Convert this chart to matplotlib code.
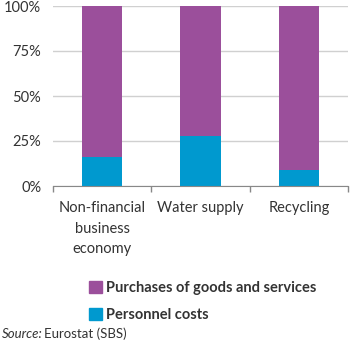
import matplotlib
matplotlib.use("Agg")
import matplotlib.pyplot as plt
from matplotlib.patches import Patch
from matplotlib.ticker import FixedLocator

categories = ["Non-financial\nbusiness\neconomy", "Water supply", "Recycling"]
personnel = [16, 28, 9]
purchases = [84, 72, 91]
series_names = ["Purchases of goods and services", "Personnel costs"]
yticks = [0, 25, 50, 75, 100]

purple = "#9B4F9B"
blue = "#0099CF"
txt = "#333333"

plt.rcParams['font.family'] = ['Lato', 'DejaVu Sans']

fig = plt.figure(figsize=(3.5, 3.41), dpi=100)
ax = fig.add_axes([53/350, 1-186/341, (348-53)/350, 180/341])

x = list(range(len(categories)))
ax.bar(x, personnel, width=0.41, color=blue, zorder=3)
ax.bar(x, purchases, bottom=personnel, width=0.41, color=purple, zorder=3)

ax.set_xlim(-0.5, 2.5)
ax.set_ylim(0, 100)
ax.set_yticks(yticks)
ax.set_yticklabels([f"{v}%" for v in yticks], fontsize=10.5, color=txt)
ax.yaxis.grid(True, color="#d0d0d0", linewidth=1, zorder=0)
ax.tick_params(axis='y', length=0, pad=8.5)

ax.set_xticks(x)
ax.set_xticklabels(categories, fontsize=10.5, color=txt, linespacing=1.6, va='top')
ax.tick_params(axis='x', which='major', length=0, pad=11)
ax.xaxis.set_minor_locator(FixedLocator([-0.5, 0.5, 1.5, 2.5]))
ax.tick_params(axis='x', which='minor', length=4, color="#888888", width=1)

for s in ['left', 'right', 'top']:
    ax.spines[s].set_visible(False)
ax.spines['bottom'].set_color("#888888")
ax.spines['bottom'].set_zorder(4)

handles = [Patch(color=purple), Patch(color=blue)]
leg = fig.legend(handles, series_names, loc='upper left', bbox_to_anchor=(76/350, 1-268/341),
                 frameon=False, handlelength=0.9, handleheight=0.9, handletextpad=0.25,
                 labelspacing=0.85, prop={'weight': 'bold', 'size': 10.5})
for t in leg.get_texts():
    t.set_color(txt)

fig.text(2/350, 1-334/341, "Source:", style='italic', fontsize=9.5, color=txt, va='center')
fig.text(44/350, 1-334/341, "Eurostat (SBS)", fontsize=9.5, color=txt, va='center')

fig.savefig("out.png", dpi=100)
